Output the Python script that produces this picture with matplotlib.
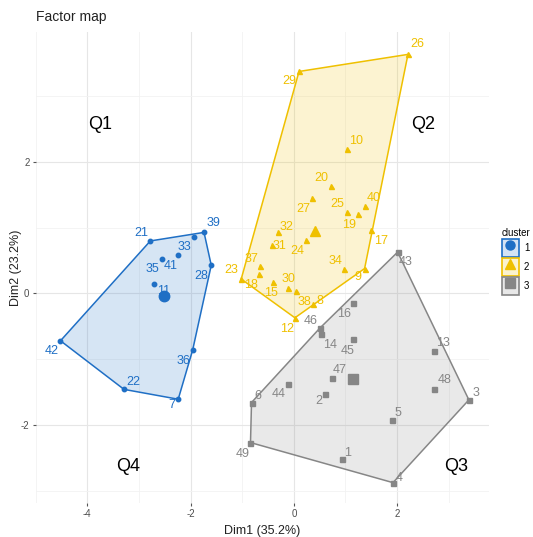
import numpy as np
import matplotlib
matplotlib.use('Agg')
import matplotlib.pyplot as plt
from matplotlib.patches import Patch, Polygon
from matplotlib.lines import Line2D
from matplotlib.legend_handler import HandlerTuple

plt.rcParams['font.family'] = ['Liberation Sans', 'DejaVu Sans']
plt.rcParams['axes.unicode_minus'] = False

# cluster 1
ids1 = [21, 33, 39, 41, 35, 11, 28, 36, 42, 22, 7]
x1 = [-2.78, -1.94, -1.74, -2.25, -2.56, -2.70, -1.60, -1.96, -4.52, -3.29, -2.24]
y1 = [0.80, 0.86, 0.93, 0.59, 0.52, 0.14, 0.43, -0.86, -0.72, -1.46, -1.61]

# cluster 2
ids2 = [26, 29, 10, 20, 27, 25, 19, 40, 17, 32, 31, 24, 34, 9, 37, 18, 23, 15, 30, 38, 8, 12]
x2 = [2.21, 0.10, 1.03, 0.71, 0.35, 1.02, 1.25, 1.37, 1.49, -0.31, -0.43, 0.23, 0.98, 1.37,
      -0.65, -0.67, -1.02, -0.40, -0.11, 0.04, 0.37, 0.02]
y2 = [3.64, 3.38, 2.20, 1.63, 1.46, 1.24, 1.21, 1.33, 0.96, 0.93, 0.74, 0.82, 0.37, 0.38,
      0.42, 0.30, 0.22, 0.17, 0.08, 0.04, -0.16, -0.37]

# cluster 3
ids3 = [43, 16, 46, 14, 45, 13, 47, 48, 44, 2, 6, 3, 5, 49, 1, 4]
x3 = [2.01, 1.14, 0.50, 0.52, 1.14, 2.71, 0.74, 2.72, -0.12, 0.61, -0.82, 3.39, 1.90, -0.84, 0.93, 1.92]
y3 = [0.63, -0.14, -0.53, -0.62, -0.70, -0.88, -1.28, -1.46, -1.38, -1.53, -1.66, -1.62, -1.93,
      -2.27, -2.52, -2.88]

quadrants = ['Q1', 'Q2', 'Q3', 'Q4']
quad_x = [-3.75, 2.50, 3.15, -3.21]
quad_y = [2.58, 2.58, -2.63, -2.63]

# label nudges (pixels), roughly where ggrepel put them
nudge = {
    21: (-9, 8), 33: (-9, -10), 39: (9, 9), 41: (-7, -11), 35: (-9, -10), 11: (9, -7),
    28: (-10, -11), 36: (-9, -11), 42: (-9, -10), 22: (9, 7), 7: (-6, -6),
    26: (9, 10), 29: (-10, -10), 10: (9, 8), 20: (-9, 8), 27: (-9, -11), 25: (-9, 8),
    19: (-9, -11), 40: (9, 8), 17: (10, -11), 32: (9, 5), 31: (8, -1), 24: (-8, -11),
    34: (-9, 8), 9: (-7, -8), 37: (-9, 7), 18: (-8, -11), 23: (-10, 9), 15: (-2, -11),
    30: (0, 9), 38: (9, -11), 8: (7, 3), 12: (-8, -11),
    43: (8, -10), 16: (-9, -11), 46: (-9, 7), 14: (9, -11), 45: (-5, -12), 13: (9, 8),
    47: (8, 8), 48: (10, 9), 44: (-9, -10), 2: (-7, -7), 6: (6, 7), 3: (7, 7), 5: (6, 7),
    49: (-8, -11), 1: (6, 6), 4: (6, 5),
}

colors = ['#1F6FC5', '#EFC000', '#868686']
markers = ['o', '^', 's']


def hull(pts):
    pts = sorted(map(tuple, pts))
    def cross(o, a, b):
        return (a[0] - o[0]) * (b[1] - o[1]) - (a[1] - o[1]) * (b[0] - o[0])
    lower, upper = [], []
    for p in pts:
        while len(lower) >= 2 and cross(lower[-2], lower[-1], p) <= 0:
            lower.pop()
        lower.append(p)
    for p in reversed(pts):
        while len(upper) >= 2 and cross(upper[-2], upper[-1], p) <= 0:
            upper.pop()
        upper.append(p)
    return np.array(lower[:-1] + upper[:-1])


fig = plt.figure(figsize=(5.33, 5.37), dpi=100)
ax = fig.add_axes([0.067, 0.0633, 0.8505, 0.877])

clusters = [(ids1, x1, y1), (ids2, x2, y2), (ids3, x3, y3)]
for k, (ids, xs, ys) in enumerate(clusters):
    c = colors[k]
    pts = np.column_stack([xs, ys])
    h = hull(pts)
    ax.add_patch(Polygon(h, closed=True, facecolor=c, alpha=0.18, edgecolor='none', zorder=2))
    ax.add_patch(Polygon(h, closed=True, facecolor='none', edgecolor=c, linewidth=1.1, zorder=3))
    ms = 3.2 if markers[k] == 'o' else 3.6
    ax.plot(xs, ys, ls='', marker=markers[k], color=c, markersize=ms, zorder=4)
    ax.plot(np.mean(xs), np.mean(ys), ls='', marker=markers[k], color=c, markersize=7.5, zorder=4)
    for i, x, y in zip(ids, xs, ys):
        dx, dy = nudge[i]
        ax.annotate(str(i), (x, y), xytext=(dx, dy), textcoords='offset pixels',
                    ha='center', va='center', fontsize=9, color=c, zorder=5)

for q, qx, qy in zip(quadrants, quad_x, quad_y):
    ax.text(qx, qy, q, ha='center', va='center', fontsize=13, color='black')

ax.set_xlim(-4.90, 3.78)
ax.set_ylim(-3.19, 3.98)
ax.set_xticks([-4, -2, 0, 2])
ax.set_yticks([-2, 0, 2])
ax.set_xticks([-5, -3, -1, 1, 3], minor=True)
ax.set_yticks([-3, -1, 1, 3], minor=True)
ax.grid(True, which='major', color='#E6E6E6', linewidth=0.8)
ax.grid(True, which='minor', color='#F2F2F2', linewidth=0.6)
ax.set_axisbelow(True)
for s in ax.spines.values():
    s.set_visible(False)
ax.tick_params(which='major', length=2.5, width=0.8, color='#555555', labelsize=7,
               labelcolor='#4D4D4D', pad=2)
ax.tick_params(which='minor', length=0)

ax.set_xlabel('Dim1 (35.2%)', fontsize=9, color='#222222', labelpad=4)
ax.set_ylabel('Dim2 (23.2%)', fontsize=9, color='#222222')
ax.yaxis.set_label_coords(-0.030, 0.5)
fig.text(0.068, 0.968, 'Factor map', fontsize=10, color='#222222', ha='left', va='center')

handles = []
for k in range(3):
    handles.append((Patch(facecolor=colors[k] + '30', edgecolor=colors[k], linewidth=1.2),
                    Line2D([], [], ls='', marker=markers[k], color=colors[k], markersize=6.5)))
leg = fig.legend(handles, ['1', '2', '3'], title='cluster', loc='upper left',
                 bbox_to_anchor=(0.940, 0.578), frameon=False, fontsize=7, title_fontsize=7,
                 handler_map={tuple: HandlerTuple(ndivide=1)}, handlelength=1.75,
                 handleheight=2.5, handletextpad=0.5, labelspacing=0.1, borderpad=0.1,
                 borderaxespad=0)
leg._legend_box.align = 'left'

fig.savefig('out.png', dpi=100)
